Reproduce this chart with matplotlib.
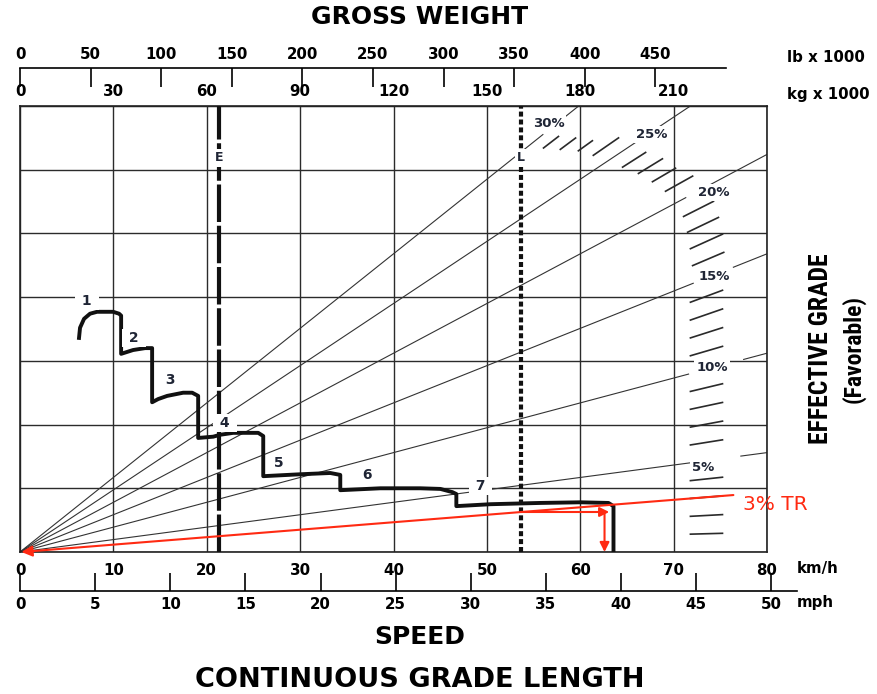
import matplotlib
matplotlib.use("Agg")
import matplotlib.pyplot as plt
from matplotlib import font_manager as fm
import numpy as np

# ---------------- data ----------------
speed_kmh_ticks = [0, 10, 20, 30, 40, 50, 60, 70, 80]
speed_mph_ticks = [0, 5, 10, 15, 20, 25, 30, 35, 40, 45, 50]
weight_kg_ticks = [0, 30, 60, 90, 120, 150, 180, 210]
weight_lb_ticks = [0, 50, 100, 150, 200, 250, 300, 350, 400, 450]
force_grid = [0, 1, 2, 3, 4, 5, 6, 7]

grades = [5, 10, 15, 20, 25, 30]
grade_labels = ["5%", "10%", "15%", "20%", "25%", "30%"]
grade_gap_from_kmh = [72.0, 71.6, 72.1, 71.3, 66.1, 56.0]
grade_gap_to_kmh = [77.2, 77.5, 76.4, 73.4, 67.8, 58.1]
grade_label_kmh = [73.2, 74.1, 74.4, 74.3, 67.7, 56.6]
grade_label_force = [1.33, 2.89, 4.32, 5.64, 6.55, 6.72]

tr_grade = 3
tr_end_kmh = 76.4
empty_weight_kg = 64
loaded_weight_kg = 161
result_speed_kmh = 62.6
result_arrow_tip_kmh = 63.1

hatch_grades = [29, 28, 27, 26, 24, 23, 22, 21, 19, 18, 17, 16,
                14, 13, 12, 11, 9, 8, 7, 6, 4, 3, 2, 1]
hatch_from_kg = [168.2, 173.6, 179.4, 184.2, 193.6, 198.7, 203.2, 207.4,
                 213.2, 214.5, 215.4, 216.1, 215.4, 215.4, 215.4, 215.4,
                 215.4, 215.4, 215.4, 215.4, 215.4, 215.4, 215.4, 215.4]
hatch_to_kg = [173.0, 178.5, 183.9, 192.3, 201.0, 206.4, 210.6, 216.1,
               222.8, 224.4, 225.7, 226.1, 225.7, 225.7, 225.7, 225.7,
               225.7, 225.7, 225.7, 225.7, 225.7, 225.7, 225.7, 225.7]

curve_speed = [6.32, 6.43, 6.86, 7.50, 8.25, 9.97, 10.61, 10.83,
               10.83, 12.11, 13.40, 14.15,
               14.15, 14.79, 15.76, 17.47, 18.44, 19.08,
               19.08, 20.69, 21.44, 22.83, 25.51, 26.05,
               26.05, 30.01, 33.23, 34.30,
               34.30, 38.59, 42.87, 45.02, 46.30, 46.73,
               46.73, 50.38, 55.73, 60.02, 63.02, 63.56,
               63.56]
curve_force = [3.36, 3.52, 3.66, 3.74, 3.77, 3.77, 3.74, 3.71,
               3.11, 3.17, 3.20, 3.20,
               2.35, 2.40, 2.45, 2.50, 2.50, 2.45,
               1.79, 1.81, 1.84, 1.87, 1.87, 1.82,
               1.19, 1.22, 1.24, 1.21,
               0.97, 1.00, 1.00, 0.99, 0.94, 0.91,
               0.72, 0.75, 0.77, 0.78, 0.77, 0.72,
               0.0]

gear_labels = ["1", "2", "3", "4", "5", "6", "7"]
gear_label_kmh = [7.18, 12.22, 16.18, 21.97, 27.76, 37.19, 49.30]
gear_label_force = [3.94, 3.36, 2.70, 2.03, 1.40, 1.21, 1.04]

# chart scale relations
KG_PER_KMH = 3.0            # gross-weight scale vs speed scale on this chart
FORCE_PER_GRADE_T = 0.0013  # grid units per % grade per 1000 kg
LB_PER_KG = 2.20462
KMH_PER_MPH = 1.609344

RED = "#ff2a12"
INK = "#1f2535"
GRID = "#2b2b2b"

# pick a condensed face (for the vertical axis title) if one is installed
_names = {f.name for f in fm.fontManager.ttflist}
COND = None
for cand in ["Liberation Sans Narrow", "Roboto Condensed", "Open Sans Condensed",
             "DejaVu Sans Condensed", "Arial Narrow", "Noto Sans Condensed",
             "Nimbus Sans Narrow"]:
    if cand in _names:
        COND = cand
        break
if COND is None:
    COND_FAMILY = ["DejaVu Sans"]
    COND_SCALE = 0.85
else:
    COND_FAMILY = [COND, "DejaVu Sans"]
    COND_SCALE = 1.0

plt.rcParams["font.family"] = ["DejaVu Sans"]
plt.rcParams["font.weight"] = "bold"
TICK_FS = 10.8

W, H = 877, 694
fig = plt.figure(figsize=(W / 100, H / 100), dpi=100)


def fx(px):
    return px / W


def fy(py):
    return 1 - py / H


L_PX, R_PX, T_PX, B_PX = 20, 767, 106, 552
ax = fig.add_axes([fx(L_PX), fy(B_PX), fx(R_PX - L_PX), (B_PX - T_PX) / H])
ax.set_xlim(speed_kmh_ticks[0], speed_kmh_ticks[-1])
ax.set_ylim(force_grid[0], force_grid[-1])
ax.set_xticks(speed_kmh_ticks)
ax.set_yticks(force_grid)
ax.set_yticklabels([])
ax.grid(True, color=GRID, lw=1.0)
ax.set_axisbelow(True)
ax.tick_params(axis="both", length=0)
ax.tick_params(axis="x", labelsize=TICK_FS, pad=8)
for s in ax.spines.values():
    s.set_linewidth(1.2)
    s.set_color("#222222")


def grade_force(g, kmh):
    return FORCE_PER_GRADE_T * g * np.asarray(kmh) * KG_PER_KMH


# grade lines (with gaps for their labels)
for g, a, b, lab, lx, ly in zip(grades, grade_gap_from_kmh, grade_gap_to_kmh,
                                grade_labels, grade_label_kmh, grade_label_force):
    x1 = np.array([0, a])
    x2 = np.array([b, speed_kmh_ticks[-1]])
    ax.plot(x1, grade_force(g, x1), color="#333333", lw=0.8, zorder=2)
    ax.plot(x2, grade_force(g, x2), color="#333333", lw=0.8, zorder=2)
    ax.text(lx, ly, lab, ha="center", va="center", fontsize=9.5, color=INK,
            zorder=6,
            bbox=dict(boxstyle="square,pad=0.15", fc="white", ec="none"))

# hatch band
for g, a, b in zip(hatch_grades, hatch_from_kg, hatch_to_kg):
    xs = np.array([a, b]) / KG_PER_KMH
    ax.plot(xs, grade_force(g, xs), color="#2a2a2a", lw=1.2, zorder=2)

# empty / loaded weight lines
xe = empty_weight_kg / KG_PER_KMH
xl = loaded_weight_kg / KG_PER_KMH
ax.plot([xe, xe], [0, force_grid[-1]], color="#111111", lw=3.0,
        linestyle=(0, (9, 0.9)), zorder=4)
ax.plot([xl, xl], [0, force_grid[-1]], color="#111111", lw=3.0,
        linestyle=(0, (1.2, 0.7)), zorder=4)
for xv, lab in [(xe, "E"), (xl, "L")]:
    ax.text(xv, 6.19, lab, ha="center", va="center", fontsize=9, color=INK,
            zorder=6,
            bbox=dict(boxstyle="square,pad=0.2", fc="white", ec="none"))

# retarder curve
ax.plot(curve_speed, curve_force, color="#111111", lw=2.8,
        solid_joinstyle="round", zorder=5)
for lab, x, y in zip(gear_labels, gear_label_kmh, gear_label_force):
    ax.text(x, y, " " + lab + " ", ha="center", va="center", fontsize=10,
            color=INK, zorder=6,
            bbox=dict(boxstyle="square,pad=0.15", fc="white", ec="none"))

# 3% TR line and reading arrows
tr_end = (tr_end_kmh, float(grade_force(tr_grade, tr_end_kmh)))
ax.annotate("", xy=(0.15, 0.0), xytext=tr_end,
            arrowprops=dict(arrowstyle="-|>", color=RED, lw=1.5,
                            mutation_scale=16, shrinkA=0, shrinkB=0),
            zorder=7, annotation_clip=False)
y_read = float(grade_force(tr_grade, xl))
ax.annotate("", xy=(result_arrow_tip_kmh, y_read), xytext=(xl, y_read),
            arrowprops=dict(arrowstyle="-|>", color=RED, lw=1.5,
                            mutation_scale=14, shrinkA=0, shrinkB=0),
            zorder=7)
ax.annotate("", xy=(result_speed_kmh, 0.0), xytext=(result_speed_kmh, y_read),
            arrowprops=dict(arrowstyle="-|>", color=RED, lw=1.5,
                            mutation_scale=14, shrinkA=0, shrinkB=0),
            zorder=7, annotation_clip=False)
fig.text(fx(743), fy(505), "3% TR", color=RED, fontsize=14.5,
         fontweight="normal", ha="left", va="center")

# kg scale on top of the plot
sec = ax.secondary_xaxis("top", functions=(lambda v: v * KG_PER_KMH,
                                           lambda v: v / KG_PER_KMH))
sec.set_xticks(weight_kg_ticks)
sec.tick_params(length=0, pad=5, labelsize=TICK_FS)

# lb scale
ax_lb = fig.add_axes([fx(L_PX), fy(68), fx(R_PX - L_PX), 1e-4])
ax_lb.set_xlim(0, speed_kmh_ticks[-1] * KG_PER_KMH * LB_PER_KG)
ax_lb.set_ylim(0, 1)
ax_lb.patch.set_visible(False)
for k in ["bottom", "left", "right"]:
    ax_lb.spines[k].set_visible(False)
ax_lb.spines["top"].set_bounds(0, 500)
ax_lb.spines["top"].set_linewidth(1.2)
ax_lb.set_yticks([])
ax_lb.xaxis.set_ticks_position("top")
ax_lb.set_xticks(weight_lb_ticks)
ax_lb.tick_params(axis="x", direction="in", length=14, width=1.2, pad=4,
                  labelsize=TICK_FS)

# mph scale
MPH_R_PX = 797
ax_mph = fig.add_axes([fx(L_PX), fy(591), fx(MPH_R_PX - L_PX), 1e-4])
mph_max = speed_kmh_ticks[-1] * (MPH_R_PX - L_PX) / (R_PX - L_PX) / KMH_PER_MPH
ax_mph.set_xlim(0, mph_max)
ax_mph.set_ylim(0, 1)
ax_mph.patch.set_visible(False)
for k in ["top", "left", "right"]:
    ax_mph.spines[k].set_visible(False)
ax_mph.spines["bottom"].set_linewidth(1.2)
ax_mph.set_yticks([])
ax_mph.set_xticks(speed_mph_ticks)
ax_mph.tick_params(axis="x", direction="in", length=13, width=1.2, pad=4,
                   labelsize=TICK_FS)

# unit labels
fig.text(fx(787), fy(58), "lb x 1000", fontsize=TICK_FS, ha="left", va="center")
fig.text(fx(787), fy(94), "kg x 1000", fontsize=TICK_FS, ha="left", va="center")
fig.text(fx(797), fy(568), "km/h", fontsize=TICK_FS, ha="left", va="center")
fig.text(fx(797), fy(603), "mph", fontsize=TICK_FS, ha="left", va="center")

# titles
fig.text(fx(420), fy(17), "GROSS WEIGHT", fontsize=18, ha="center", va="center")
fig.text(fx(420), fy(637), "SPEED", fontsize=18, ha="center", va="center")
fig.text(fx(420), fy(680), "CONTINUOUS GRADE LENGTH", fontsize=19.5,
         ha="center", va="center")
fig.text(fx(821), fy(349), "EFFECTIVE GRADE", family=COND_FAMILY,
         fontsize=18.5 * COND_SCALE, rotation=90, ha="center", va="center")
fig.text(fx(853), fy(349), "(Favorable)", family=COND_FAMILY,
         fontsize=17 * COND_SCALE, rotation=90, ha="center", va="center")

fig.savefig("out.png", dpi=100)
